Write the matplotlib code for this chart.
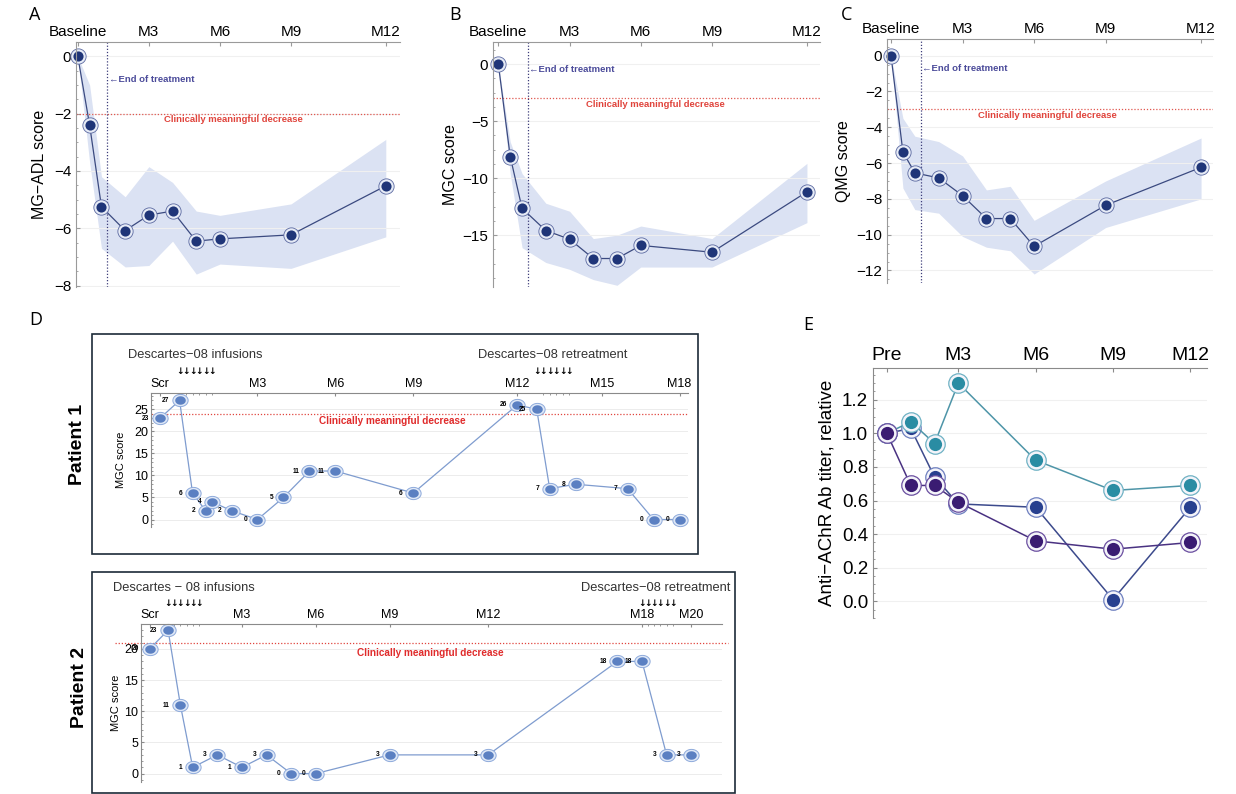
import numpy as np
import matplotlib
matplotlib.use('Agg')
import matplotlib.pyplot as plt
import matplotlib.transforms as mtransforms
from matplotlib.path import Path
from matplotlib.patches import Rectangle
from matplotlib.ticker import MultipleLocator

plt.rcParams['font.family'] = ['Liberation Sans', 'DejaVu Sans']

# ---------------- data ----------------
# panels A-C: weeks after baseline, mean change and band
weeks = [0, 2, 4, 8, 12, 16, 20, 24, 36, 52]
month_ticks = [0, 12, 24, 36, 52]
month_labels = ['Baseline', 'M3', 'M6', 'M9', 'M12']

adl = [0, -2.4, -5.25, -6.08, -5.54, -5.4, -6.45, -6.37, -6.23, -4.52]
adl_hi = [0, -1.0, -4.2, -4.9, -3.85, -4.4, -5.4, -5.55, -5.15, -2.9]
adl_lo = [0, -3.7, -6.7, -7.35, -7.3, -6.45, -7.6, -7.25, -7.4, -6.3]

mgc = [0, -8.1, -12.65, -14.6, -15.35, -17.05, -17.05, -15.9, -16.5, -11.2]
mgc_hi = [0, -6.8, -9.6, -12.2, -12.9, -15.3, -15.0, -14.2, -15.3, -8.7]
mgc_lo = [0, -9.6, -16.1, -17.4, -18.0, -18.9, -19.4, -17.8, -17.8, -13.9]

qmg = [0, -5.38, -6.55, -6.83, -7.82, -9.1, -9.1, -10.65, -8.36, -6.24]
qmg_hi = [0, -3.5, -4.5, -4.8, -5.6, -7.5, -7.3, -9.2, -7.0, -4.6]
qmg_lo = [0, -7.4, -8.6, -8.8, -10.1, -10.7, -10.9, -12.2, -9.6, -8.0]

# panel D: single patients (weeks, MGC score)
p1_weeks = [-3, 0, 2, 4, 5, 8, 12, 16, 20, 24, 36, 52, 55, 57, 61, 69, 73, 77]
p1_mgc = [23, 27, 6, 2, 4, 2, 0, 5, 11, 11, 6, 26, 25, 7, 8, 7, 0, 0]
p1_ticks = [-3, 12, 24, 36, 52, 65, 77]
p1_labels = ['Scr', 'M3', 'M6', 'M9', 'M12', 'M15', 'M18']
p1_infusions = [0, 1, 2, 3, 4, 5]
p1_retreat = [55, 56, 57, 58, 59, 60]

p2_weeks = [-3, 0, 2, 4, 8, 12, 16, 20, 24, 36, 52, 73, 77, 81, 85]
p2_mgc = [20, 23, 11, 1, 3, 1, 3, 0, 0, 3, 3, 18, 18, 3, 3]
p2_ticks = [-3, 12, 24, 36, 52, 77, 85]
p2_labels = ['Scr', 'M3', 'M6', 'M9', 'M12', 'M18', 'M20']
p2_infusions = [0, 1, 2, 3, 4, 5]
p2_retreat = [77, 78, 79, 80, 81, 82]

# panel E: relative anti-AChR titer
e_weeks = [0, 4, 8, 12, 25, 38, 51]
e_ticks = [0, 12, 25, 38, 51]
e_labels = ['Pre', 'M3', 'M6', 'M9', 'M12']
titer_navy = [1.0, 1.03, 0.74, 0.58, 0.56, 0.01, 0.56]
titer_teal = [1.0, 1.07, 0.94, 1.30, 0.84, 0.66, 0.69]
titer_purple = [1.0, 0.69, 0.69, 0.59, 0.36, 0.31, 0.35]

# ---------------- figure ----------------
W, H = 1236, 794
fig = plt.figure(figsize=(W / 100, H / 100), dpi=100)


def px_axes(l, t, r, b):
    return fig.add_axes([l / W, 1 - b / H, (r - l) / W, (b - t) / H])


def fig_text(x, y, s, **kw):
    fig.text(x / W, 1 - y / H, s, **kw)


def frame_style(ax, color='#9a9a9a'):
    for side in ['right', 'bottom']:
        ax.spines[side].set_visible(False)
    for side in ['top', 'left']:
        ax.spines[side].set_color(color)
        ax.spines[side].set_linewidth(0.8)
    ax.xaxis.tick_top()
    ax.tick_params(which='both', direction='in', color=color)
    ax.set_facecolor('none')


def score_panel(box, vals, lo, hi, xlim, ylim, yticks, ylabel, mcid, eot_y, mcid_y, mcid_x):
    ax = px_axes(*box)
    frame_style(ax)
    ax.set_xlim(xlim)
    ax.set_ylim(ylim)
    ax.set_xticks(month_ticks, month_labels)
    ax.set_yticks(yticks)
    ax.yaxis.set_minor_locator(MultipleLocator((yticks[1] - yticks[0]) / 4))
    ax.tick_params(axis='x', length=3, pad=2, labelsize=11)
    ax.tick_params(axis='y', length=3, labelsize=11)
    ax.tick_params(axis='y', which='minor', length=1.5)
    ax.grid(axis='y', color='#f0f0f0', lw=0.8)
    ax.fill_between(weeks, lo, hi, color='#dbe2f3', lw=0)
    ax.axhline(mcid, color='#e0574f', ls=(0, (1, 1.5)), lw=0.9)
    ax.axvline(5, color='#3d3d7a', ls=(0, (1, 1.5)), lw=0.9)
    ax.plot(weeks, vals, color='#3b4a80', lw=0.9)
    ax.plot(weeks, vals, 'o', ms=11, mfc='#e6ebf6', mec='#5a68a0', mew=0.6, clip_on=False)
    ax.plot(weeks, vals, 'o', ms=7.3, mfc='#1f3578', mec='none', clip_on=False)
    ax.text(5.2, eot_y, '\u2190End of treatment', color='#4b4b9a', fontsize=6.8,
            fontweight='bold', ha='left', va='center')
    ax.text(mcid_x, mcid_y, 'Clinically meaningful decrease', color='#e0443c', fontsize=6.8,
            fontweight='bold', ha='center', va='center')
    ax.set_ylabel(ylabel, fontsize=11.5)
    return ax


axA = score_panel((76, 42, 400, 287), adl, adl_lo, adl_hi, (-0.3, 54.4), (-8.05, 0.5),
                  [-8, -6, -4, -2, 0], 'MG\u2212ADL score', -2, -0.8, -2.2, 26.3)
axA.yaxis.set_label_coords(-0.088, 0.5)
axB = score_panel((493, 42, 820, 287), mgc, mgc_lo, mgc_hi, (-0.9, 54.2), (-19.55, 1.95),
                  [-15, -10, -5, 0], 'MGC score', -3, -0.5, -3.5, 26.4)
axB.yaxis.set_label_coords(-0.108, 0.5)
axC = score_panel((887, 39, 1213, 283), qmg, qmg_lo, qmg_hi, (-0.67, 54), (-12.7, 0.93),
                  [-12, -10, -8, -6, -4, -2, 0], 'QMG score', -3, -0.69, -3.35, 26.2)
axC.yaxis.set_label_coords(-0.11, 0.5)

for letter, x in [('A', 29), ('B', 449), ('C', 841)]:
    fig_text(x, 15, letter, fontsize=13, family='Open Sans', ha='left', va='center')

# ---------------- panel D ----------------
t = np.linspace(0, 2 * np.pi, 61)
ellipse = Path(np.column_stack([1.25 * np.cos(t), np.sin(t)]), closed=True)


def patient_panel(box, frame, xs, ys, ticks, labels, infusions, retreat, xlim, ylim,
                  mcid, mcid_x, mcid_span, txt_y, arrow_y, inf_x, re_x, inf_text, name, name_xy):
    l, t_, r, b = frame
    fig.patches.append(Rectangle((l / W, 1 - b / H), (r - l) / W, (b - t_) / H,
                                 transform=fig.transFigure, fill=False,
                                 edgecolor='#1c2b38', lw=1.2))
    ax = px_axes(*box)
    frame_style(ax, '#8a8a8a')
    ax.set_xlim(xlim)
    ax.set_ylim(ylim)
    ax.set_xticks(ticks, labels)
    ax.set_xticks(infusions[1:] + retreat[1:], minor=True)
    ax.set_yticks(range(0, int(ylim[1]) + 1, 5))
    ax.yaxis.set_minor_locator(MultipleLocator(1))
    ax.tick_params(axis='x', length=2.5, pad=2, labelsize=9)
    ax.tick_params(axis='y', length=2.5, labelsize=9, pad=2)
    ax.tick_params(which='minor', length=1.5)
    ax.grid(axis='y', color='#ececec', lw=0.7)
    trans = mtransforms.blended_transform_factory(ax.transAxes, ax.transData)
    ax.plot(mcid_span, [mcid, mcid], color='#e0453f', ls=(0, (1, 1.5)), lw=0.9,
            transform=trans, clip_on=False)
    ax.text(mcid_x, mcid - 1.6, 'Clinically meaningful decrease', color='#e02b2b',
            fontsize=7.2, fontweight='bold', ha='center', va='center')
    ax.plot(xs, ys, color='#7f9ccf', lw=0.9)
    ax.plot(xs, ys, marker=ellipse, ls='none', ms=11, mfc='#dfe8f7', mec='#8eaadb',
            mew=0.7, clip_on=False)
    ax.plot(xs, ys, marker=ellipse, ls='none', ms=7.6, mfc='#5b80c2', mec='none',
            clip_on=False)
    for x, y in zip(xs, ys):
        ax.annotate(str(y), (x, y), xytext=(-7.5, 0), textcoords='offset points',
                    ha='right', va='center', fontsize=4.8, fontweight='bold')
    ax.set_ylabel('MGC score', fontsize=8)
    tr = mtransforms.blended_transform_factory(ax.transData, fig.transFigure)
    for w in infusions + retreat:
        ax.text(w, 1 - arrow_y / H, '\u2193', transform=tr, fontsize=6.5, fontweight='bold',
                family='DejaVu Sans', ha='center', va='center')
    fig_text(inf_x, txt_y, inf_text, fontsize=9.3, ha='center', va='center', color='#333333')
    fig_text(re_x, txt_y, 'Descartes\u221208 retreatment', fontsize=9.3, ha='center',
             va='center', color='#333333')
    fig_text(name_xy[0], name_xy[1], name, fontsize=14, fontweight='bold', rotation=90,
             ha='center', va='center')
    return ax


axP1 = patient_panel((151, 393, 688, 527), (92, 334, 698, 554), p1_weeks, p1_mgc,
                     p1_ticks, p1_labels, p1_infusions, p1_retreat, (-4.4, 78.3), (-1.7, 28.7),
                     24, 32.7, [0, 1], 355, 372, 195, 553,
                     'Descartes\u221208 infusions', 'Patient 1', (77, 444))
axP1.yaxis.set_label_coords(-0.046, 0.5)
axP2 = patient_panel((141, 624, 722, 782), (92, 572, 735, 793), p2_weeks, p2_mgc,
                     p2_ticks, p2_labels, p2_infusions, p2_retreat, (-4.4, 90), (-1.35, 24.0),
                     21, 42.6, [-0.045, 1.011], 588, 603, 184, 656,
                     'Descartes \u2212 08 infusions', 'Patient 2', (79, 688))
axP2.yaxis.set_label_coords(-0.034, 0.5)
fig_text(29, 320, 'D', fontsize=13, family='Open Sans', ha='left', va='center')

# ---------------- panel E ----------------
axE = px_axes(873, 368, 1207, 618)
frame_style(axE, '#8a8a8a')
axE.set_xlim(-2.35, 53.8)
axE.set_ylim(-0.10, 1.39)
axE.set_xticks(e_ticks, e_labels)
axE.set_yticks(np.arange(0, 1.3, 0.2))
axE.yaxis.set_major_formatter(matplotlib.ticker.FormatStrFormatter('%.1f'))
axE.yaxis.set_minor_locator(MultipleLocator(0.05))
axE.tick_params(axis='x', length=3, pad=3, labelsize=14)
axE.tick_params(axis='y', length=3, labelsize=13.5)
axE.tick_params(which='minor', length=1.5)
axE.grid(axis='y', color='#f0f0f0', lw=0.8)

for vals, line_c, dot_c, ring_c in [
        (titer_navy, '#3c4a8c', '#28408f', '#6d7fbf'),
        (titer_teal, '#4e95a8', '#2a8ca3', '#6fb2c4'),
        (titer_purple, '#4a3282', '#3a1c72', '#6b4fa0')]:
    axE.plot(e_weeks, vals, color=line_c, lw=1.1)
    axE.plot(e_weeks, vals, 'o', ms=14, mfc='#f4f4fa', mec=ring_c, mew=0.9, clip_on=False)
    axE.plot(e_weeks, vals, 'o', ms=9.5, mfc=dot_c, mec='none', clip_on=False)

axE.set_ylabel('Anti\u2212AChR Ab titer, relative', fontsize=13.5)
axE.yaxis.set_label_coords(-0.112, 0.5)
fig_text(803, 325, 'E', fontsize=13, family='Open Sans', ha='left', va='center')

fig.savefig('out.png', dpi=100)
